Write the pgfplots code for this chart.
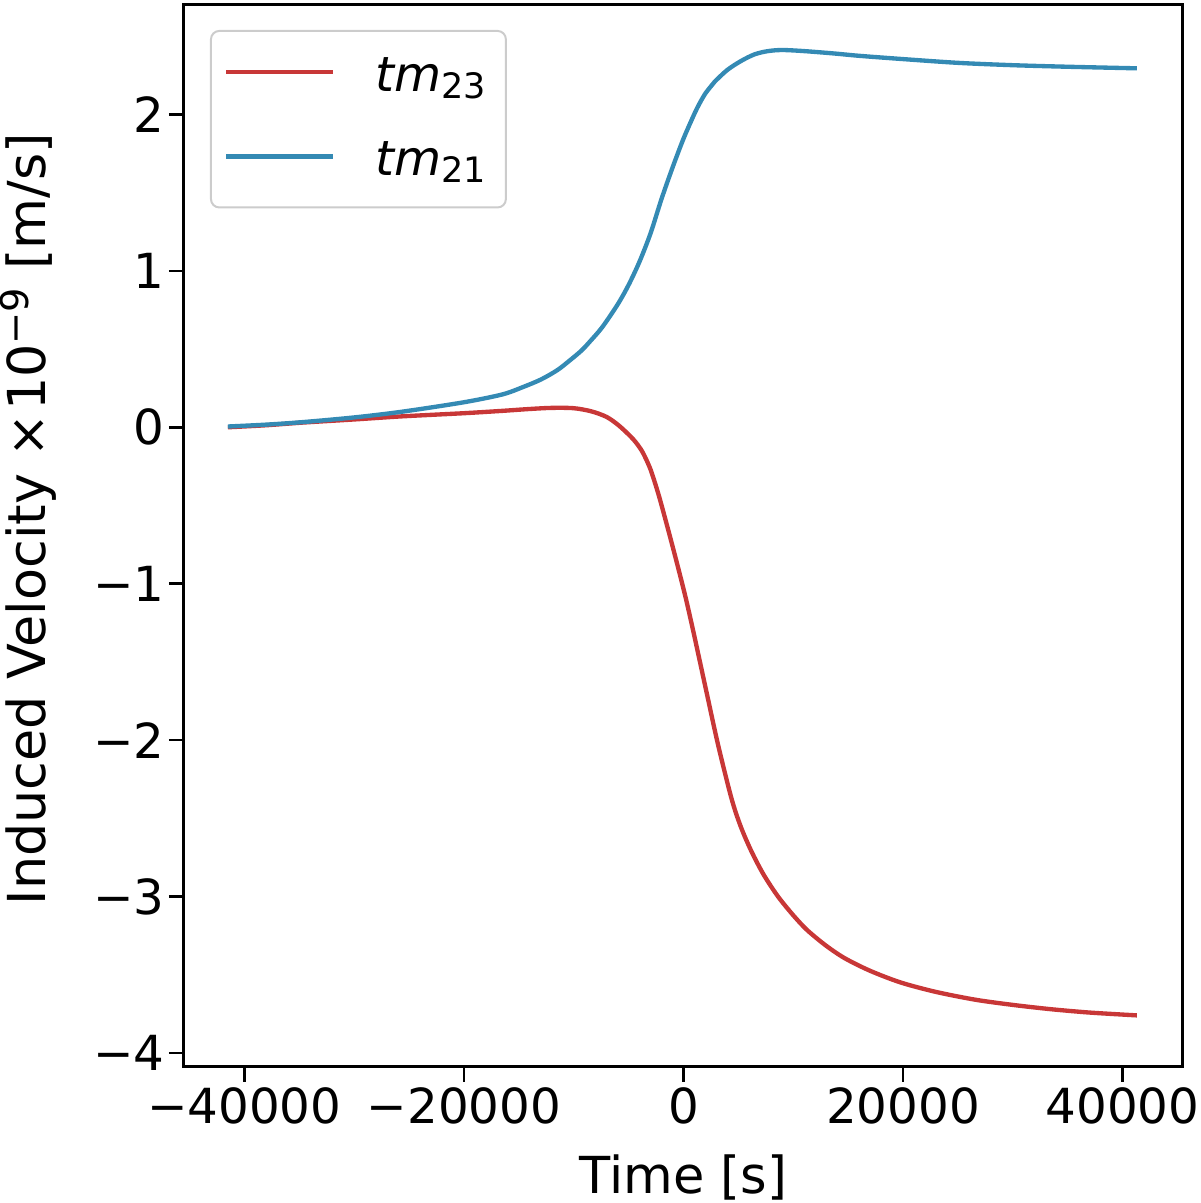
\documentclass[border=0pt]{standalone}
\usepackage{fontspec}
\setmainfont{DejaVu Sans}
\usepackage{pgfplots}
\pgfplotsset{compat=1.18}
\definecolor{cred}{RGB}{200,55,55}
\definecolor{cblue}{RGB}{52,138,180}

\pgfplotstableread{
t y
-41500 0.000
-38000 0.013
-34700 0.030
-30000 0.050
-25600 0.070
-20000 0.090
-16500 0.105
-14000 0.117
-12000 0.124
-10000 0.122
-8400 0.102
-7000 0.066
-5900 0.012
-4800 -0.060
-4300 -0.100
-3800 -0.150
-3400 -0.205
-3000 -0.270
-2600 -0.355
-2150 -0.460
-1300 -0.680
-480 -0.900
200 -1.090
880 -1.300
1500 -1.500
2150 -1.710
3150 -2.030
4360 -2.370
5200 -2.550
6180 -2.710
7300 -2.860
8610 -3.000
10000 -3.120
11270 -3.215
13000 -3.315
14700 -3.395
17000 -3.475
19800 -3.550
23000 -3.610
26600 -3.660
30000 -3.693
33400 -3.720
37000 -3.742
41300 -3.760
}\tmtwothree

\pgfplotstableread{
t y
-41500 0.005
-38000 0.017
-34700 0.033
-30000 0.063
-25600 0.100
-20000 0.160
-16500 0.210
-14700 0.255
-13000 0.305
-11500 0.365
-10400 0.425
-9300 0.490
-8500 0.550
-7400 0.640
-6000 0.785
-5000 0.910
-4000 1.060
-3000 1.240
-2000 1.460
-1000 1.660
0 1.845
1000 2.005
1500 2.075
2000 2.135
2500 2.180
2850 2.210
4000 2.285
5270 2.343
6500 2.385
7700 2.405
9000 2.412
11000 2.405
13700 2.390
16000 2.375
19800 2.355
25000 2.330
30000 2.315
35000 2.305
41300 2.295
}\tmtwoone

\begin{document}
\begin{tikzpicture}
\useasboundingbox (-55.2pt,-40.8pt) rectangle (304.8pt,320.1pt);
\begin{axis}[
  at={(0pt,0pt)}, anchor=south west,
  scale only axis, width=299.7pt, height=318.6pt,
  xmin=-45500, xmax=45500, ymin=-4.09, ymax=2.70,
  xtick={-40000,-20000,0,20000,40000},
  xticklabels={−40000,−20000,0,20000,40000},
  ytick={-4,-3,-2,-1,0,1,2},
  yticklabels={−4,−3,−2,−1,0,1,2},
  scaled x ticks=false,
  tick align=outside, xtick pos=left, ytick pos=left,
  major tick length=4.5pt,
  every tick/.style={black, line width=0.8pt},
  axis line style={line width=0.9pt},
  tick label style={font=\fontsize{14.5}{17}\selectfont},
  xticklabel style={yshift=1.8pt},
  yticklabel style={xshift=2.2pt},
  label style={font=\fontsize{15.3}{18}\selectfont},
  xlabel={Time [s]},
  ylabel={Induced Velocity ×\hspace{0.8pt}10\raisebox{5pt}{\fontsize{11.5}{13}\selectfont −9}\hspace{0.5pt} [m/s]},
  xlabel style={at={(axis description cs:0.5,0)}, anchor=base, yshift=-38.1pt},
  ylabel style={at={(axis description cs:-0.1391,0.516)}, anchor=base, rotate=0, font=\fontsize{15.7}{18}\selectfont},
  legend cell align=left,
  legend image code/.code={\draw[#1] (0pt,1.5pt) -- (32pt,1.5pt);},
  legend style={
    at={(axis description cs:0.026,0.9765)}, anchor=north west,
    draw=black!20, line width=0.6pt, rounded corners=2.5pt,
    inner xsep=4pt, inner ysep=6pt,
    row sep=9.6pt,
    font=\fontsize{14.5}{17}\selectfont,
    /tikz/every odd column/.append style={column sep=10pt},
  },
]
\addplot[cred, line width=1.3pt, smooth, tension=0.5] table[x=t,y=y] {\tmtwothree};
\addlegendentry{\textit{tm}\raisebox{-2pt}{\fontsize{10.5}{12}\selectfont 23}\hspace{2.5pt}}
\addplot[cblue, line width=1.3pt, smooth, tension=0.5] table[x=t,y=y] {\tmtwoone};
\addlegendentry{\textit{tm}\raisebox{-2pt}{\fontsize{10.5}{12}\selectfont 21}\hspace{2.5pt}}
\end{axis}
\end{tikzpicture}
\end{document}
